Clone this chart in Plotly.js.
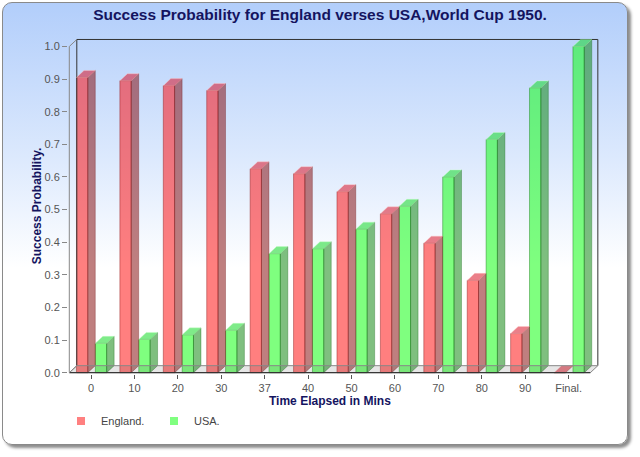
<!DOCTYPE html>
<html>
<head>
<meta charset="utf-8">
<script src="https://cdn.plot.ly/plotly-3.0.1.min.js"></script>
<style>
  html, body { margin: 0; padding: 0; background: #fff; }
  #frame {
    position: absolute; left: 2px; top: 2px; width: 624px; height: 441px;
    border: 1px solid #8a8a8a; border-radius: 10px;
    background: linear-gradient(to bottom, #b2cefb 0%, #dce9fd 35%, #ffffff 60%, #ffffff 100%);
    box-shadow: 3px 3px 3px rgba(0,0,0,0.45);
  }
  #chart { position: absolute; left: 0; top: 0; width: 640px; height: 457px; }
</style>
</head>
<body>
<div id="frame"></div>
<div id="chart"></div>
<script>
// ── Données ──────────────────────────────────────────────────────────────────
const minutes = ['0','10','20','30','37','40','50','60','70','80','90','Final.'];
const england = [0.905,0.895,0.88,0.865,0.625,0.61,0.555,0.487,0.397,0.283,0.12,0];
const usa     = [0.09,0.102,0.116,0.13,0.365,0.38,0.44,0.51,0.60,0.715,0.873,1.0];
const yTicks  = [0,0.1,0.2,0.3,0.4,0.5,0.6,0.7,0.8,0.9,1.0];

// ── Fausse 3D : profondeur en unités d'axe ───────────────────────────────────
const DX=0.173, DY=0.0215, BAR_W=0.26;
const OFF_ENG=-0.335, OFF_USA=0.1;
const idx=minutes.map((_,i)=>i);
const L=-0.5, R=minutes.length-0.5, TOP=yTicks[yTicks.length-1];
const NAVY='#14145f';

function faces(vals, off){
  const side={x:[],y:[]}, top={x:[],y:[]};
  vals.forEach((v,i)=>{
    const a=i+off, b=a+BAR_W;
    side.x.push(b,b+DX,b+DX,b,b,null); side.y.push(0,DY,v+DY,v,0,null);
    top.x.push(a,a+DX,b+DX,b,a,null);  top.y.push(v,v+DY,v+DY,v,v,null);
  });
  return {side,top};
}

function poly(p, fill, line){
  return {x:p.x,y:p.y,type:'scatter',mode:'lines',fill:'toself',fillcolor:fill,
          line:{color:line,width:0.6},hoverinfo:'skip',showlegend:false};
}
function frameLine(x,y,color){
  return {x,y,type:'scatter',mode:'lines',line:{color,width:1},hoverinfo:'skip',showlegend:false};
}

const fe=faces(england,OFF_ENG), fu=faces(usa,OFF_USA);

const traces=[
  {x:idx,y:england,type:'bar',offset:OFF_ENG,width:BAR_W,showlegend:false,
   marker:{color:'rgba(255,0,0,0.5)',line:{color:'rgba(140,20,20,0.55)',width:0.8}}},
  {x:idx,y:usa,type:'bar',offset:OFF_USA,width:BAR_W,showlegend:false,
   marker:{color:'rgba(0,255,0,0.5)',line:{color:'rgba(20,120,20,0.55)',width:0.8}}},
  // mur du fond
  frameLine([L+DX,L+DX,R+DX,R+DX],[DY,TOP+DY,TOP+DY,DY],'#333'),
  poly(fe.side,'rgba(128,0,0,0.5)','rgba(100,0,0,0.5)'),
  poly(fe.top,'rgba(215,0,20,0.5)','rgba(255,200,200,0.7)'),
  poly(fu.side,'rgba(0,128,0,0.5)','rgba(0,90,0,0.5)'),
  poly(fu.top,'rgba(0,215,20,0.5)','rgba(200,255,200,0.7)'),
  // sol
  {x:[L,R,R+DX,L+DX,L],y:[0,0,DY,DY,0],type:'scatter',mode:'lines',fill:'toself',
   fillcolor:'rgba(90,90,90,0.15)',line:{color:'#888',width:1},hoverinfo:'skip',showlegend:false},
  frameLine([L,R],[0,0],'#222'),
  // axe vertical avant
  frameLine([L,L,L+DX],[0,TOP,TOP+DY],'#888'),
  frameLine([L,L+DX],[0,DY],'#888'),
  // légende
  {x:[null],y:[null],type:'scatter',mode:'markers',name:'England.',
   marker:{symbol:'square',size:8,color:'#ff8080'}},
  {x:[null],y:[null],type:'scatter',mode:'markers',name:'USA.',
   marker:{symbol:'square',size:8,color:'#80ff80'}},
];

const tickFont={family:'Liberation Sans, Arial, sans-serif',size:11,color:'#555'};
const titleFont={family:'Liberation Sans, Arial, sans-serif',size:12,color:NAVY,weight:'bold'};

const layout={
  width:640,height:457,
  margin:{l:68,r:41,t:38,b:83,pad:0},
  paper_bgcolor:'rgba(0,0,0,0)',plot_bgcolor:'rgba(0,0,0,0)',
  showlegend:true,
  title:{text:'Success Probability for England verses USA,World Cup 1950.',
         font:{family:'Liberation Sans, Arial, sans-serif',size:15.5,color:NAVY,weight:'bold'},
         x:0.5,xanchor:'center',yref:'container',y:1-15/457,yanchor:'middle'},
  xaxis:{range:[-0.53,11.7],tickvals:idx,ticktext:minutes,ticks:'outside',ticklen:4,
         tickcolor:'#555',showgrid:false,zeroline:false,showline:false,tickfont:tickFont},
  yaxis:{range:[-0.004,1.026],tickvals:yTicks,tickformat:'.1f',ticks:'outside',ticklen:5,
         tickcolor:'#888',showgrid:false,zeroline:false,showline:false,tickfont:tickFont,
         title:{text:'Success Probability.',font:titleFont,standoff:0}},
  annotations:[
    {text:'Time Elapsed in Mins',font:titleFont,showarrow:false,
     xref:'paper',x:(330-68)/531,xanchor:'center',
     yref:'paper',y:0,yanchor:'middle',yshift:-27},
  ],
  legend:{orientation:'h',xref:'container',x:61/640,xanchor:'left',
          yref:'container',y:1-421/457,yanchor:'middle',
          font:{family:'Liberation Sans, Arial, sans-serif',size:11,color:'#444'},
          bgcolor:'rgba(0,0,0,0)',entrywidth:48,entrywidthmode:'pixels'},
  bargap:0,
};

Plotly.newPlot('chart',traces,layout,{displayModeBar:false,staticPlot:true});
</script>
</body>
</html>
